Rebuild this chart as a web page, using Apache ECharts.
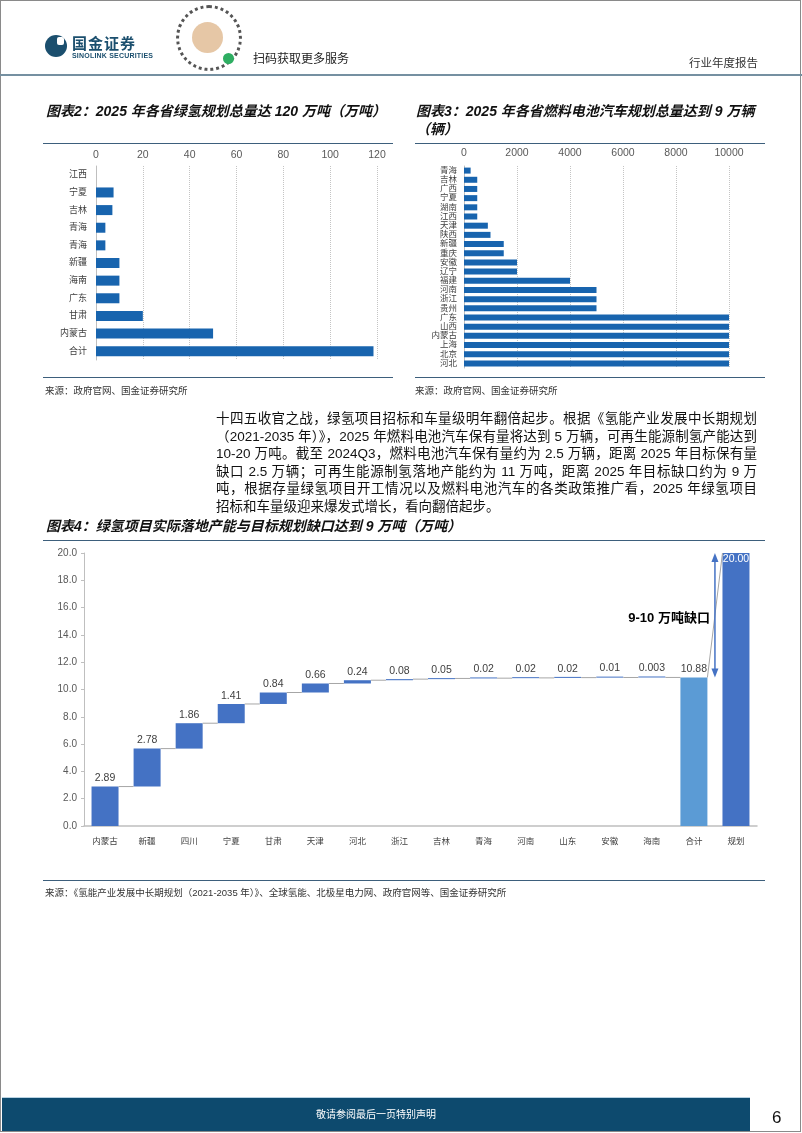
<!DOCTYPE html>
<html>
<head>
<meta charset="utf-8">
<script src="https://cdn.jsdelivr.net/npm/echarts@6/dist/echarts.min.js"></script>
<style>
html,body{margin:0;padding:0;background:#fff;}
body{width:802px;height:1133px;position:relative;overflow:hidden;font-family:"Liberation Sans","Noto Sans CJK SC",sans-serif;color:#111;}
.a{position:absolute;white-space:nowrap;line-height:1;}
.title{font-size:14px;font-weight:bold;font-style:italic;color:#111;}
.src{font-size:9.5px;color:#333;}
.rule{position:absolute;height:1.5px;background:#3d5f7c;}
.para{position:absolute;left:216px;width:541px;font-size:13.5px;color:#111;}
.para div{height:17.5px;line-height:17.5px;text-align:justify;text-align-last:justify;white-space:nowrap;}
.para div.last{text-align-last:left;}
</style>
</head>
<body>
<div id="chart" style="position:absolute;left:0;top:0;width:802px;height:1133px;"></div>

<!-- page frame -->
<div style="position:absolute;left:0;top:0;width:799px;height:1130px;border:1.5px solid #8a8a8a;pointer-events:none;"></div>

<!-- header -->
<div style="position:absolute;left:45px;top:35px;width:22px;height:22px;border-radius:50%;background:#1b4f6e;"></div>
<div style="position:absolute;left:57px;top:37px;width:7px;height:8px;border-radius:2px;background:#fff;"></div>
<div class="a" style="left:72px;top:36px;font-size:15px;font-weight:bold;color:#1b4f6e;letter-spacing:1px;">国金证券</div>
<div class="a" style="left:72px;top:52px;font-size:7px;font-weight:bold;color:#1b4f6e;letter-spacing:0.2px;">SINOLINK SECURITIES</div>
<div style="position:absolute;left:176px;top:5px;width:60px;height:60px;border-radius:50%;border:3px dotted #555;"></div>
<div style="position:absolute;left:192px;top:22px;width:31px;height:31px;border-radius:50%;background:#e6c7a6;"></div>
<div style="position:absolute;left:223px;top:53px;width:11px;height:11px;border-radius:50%;background:#2eae62;"></div>
<div class="a" style="left:253px;top:53px;font-size:12px;color:#222;">扫码获取更多服务</div>
<div class="a" style="left:689px;top:58px;font-size:11.5px;color:#333;">行业年度报告</div>
<div style="position:absolute;left:0;top:74px;width:802px;height:2px;background:#7590a1;"></div>

<!-- chart 2 / 3 titles -->
<div class="a title" style="left:46px;top:104px;">图表2：2025 年各省绿氢规划总量达 120 万吨（万吨）</div>
<div class="a title" style="left:416px;top:104px;">图表3：2025 年各省燃料电池汽车规划总量达到 9 万辆</div>
<div class="a title" style="left:416px;top:122px;">（辆）</div>
<div class="rule" style="left:43px;top:142.5px;width:350px;"></div>
<div class="rule" style="left:415px;top:142.5px;width:350px;"></div>
<div class="rule" style="left:43px;top:376.5px;width:350px;"></div>
<div class="rule" style="left:415px;top:376.5px;width:350px;"></div>
<div class="a src" style="left:45px;top:386px;">来源：政府官网、国金证券研究所</div>
<div class="a src" style="left:415px;top:386px;">来源：政府官网、国金证券研究所</div>

<!-- paragraph -->
<div class="para" style="top:410px;">
<div>十四五收官之战，绿氢项目招标和车量级明年翻倍起步。根据《氢能产业发展中长期规划</div>
<div>（2021-2035 年）》，2025 年燃料电池汽车保有量将达到 5 万辆，可再生能源制氢产能达到</div>
<div>10-20 万吨。截至 2024Q3，燃料电池汽车保有量约为 2.5 万辆，距离 2025 年目标保有量</div>
<div>缺口 2.5 万辆；可再生能源制氢落地产能约为 11 万吨，距离 2025 年目标缺口约为 9 万</div>
<div>吨，根据存量绿氢项目开工情况以及燃料电池汽车的各类政策推广看，2025 年绿氢项目</div>
<div class="last">招标和车量级迎来爆发式增长，看向翻倍起步。</div>
</div>

<!-- chart 4 -->
<div class="a title" style="left:46px;top:519px;">图表4：绿氢项目实际落地产能与目标规划缺口达到 9 万吨（万吨）</div>
<div class="rule" style="left:43px;top:539.5px;width:722px;"></div>
<div class="rule" style="left:43px;top:879.5px;width:722px;"></div>
<div class="a src" style="left:45px;top:888px;">来源：《氢能产业发展中长期规划（2021-2035 年）》、全球氢能、北极星电力网、政府官网等、国金证券研究所</div>

<!-- footer -->
<div style="position:absolute;left:2px;top:1097px;width:748px;height:33px;background:#0d4a6e;border-top:1px solid #b9d3e3;"></div>
<div class="a" style="left:2px;width:748px;top:1110px;font-size:10px;color:#fff;text-align:center;">敬请参阅最后一页特别声明</div>
<div class="a" style="left:772px;top:1109px;font-size:17px;color:#111;">6</div>

<script>
// ---- Chart 2: green hydrogen plans by province (万吨) ----
const cats2 = ['江西','宁夏','吉林','青海','青海','新疆','海南','广东','甘肃','内蒙古','合计'];
const vals2 = [0, 7.5, 7, 4, 4, 10, 10, 10, 20, 50, 118.5];

// ---- Chart 3: fuel-cell vehicle plans by province (辆) ----
const cats3 = ['青海','吉林','广西','宁夏','湖南','江西','天津','陕西','新疆','重庆','安徽','辽宁','福建','河南','浙江','贵州','广东','山西','内蒙古','上海','北京','河北'];
const vals3 = [250, 500, 500, 500, 500, 500, 900, 1000, 1500, 1500, 2000, 2000, 4000, 5000, 5000, 5000, 10000, 10000, 10000, 10000, 10000, 10000];

// ---- Chart 4: waterfall of landed capacity vs plan (万吨) ----
const cats4 = ['内蒙古','新疆','四川','宁夏','甘肃','天津','河北','浙江','吉林','青海','河南','山东','安徽','海南','合计','规划'];
const vals4 = [2.89, 2.78, 1.86, 1.41, 0.84, 0.66, 0.24, 0.08, 0.05, 0.02, 0.02, 0.02, 0.01, 0.003, 10.88, 20.00];
const totalIdx = [14, 15];          // bars drawn from zero
const gapNote = '9-10 万吨缺口';

// derive waterfall bases from the values
const base4 = [];
let run = 0;
vals4.forEach((v, i) => {
  if (totalIdx.includes(i)) { base4.push(0); }
  else { base4.push(+run.toFixed(4)); run += v; }
});
const tops4 = vals4.map((v, i) => base4[i] + v);
const conn4 = [];
for (let i = 0; i < vals4.length - 1; i++) {
  const next = i + 1 === vals4.length - 1 ? tops4[i + 1] : tops4[i];
  conn4.push([i, tops4[i], next]);
}

const BW4 = 27;
const FONT = '"Liberation Sans","Noto Sans CJK SC",sans-serif';

const chart = echarts.init(document.getElementById('chart'), null, {renderer: 'canvas'});
chart.setOption({
  animation: false,
  backgroundColor: 'transparent',
  textStyle: {fontFamily: FONT},
  grid: [
    {left: 96, top: 166, width: 281, height: 194, containLabel: false, outerBoundsMode: 'none'},
    {left: 464, top: 166, width: 265, height: 202, containLabel: false, outerBoundsMode: 'none'},
    {left: 84, top: 553, width: 673, height: 273, containLabel: false, outerBoundsMode: 'none'}
  ],
  xAxis: [
    {type: 'value', gridIndex: 0, position: 'top', min: 0, max: 120, interval: 20,
     axisLine: {show: false}, axisTick: {show: false},
     axisLabel: {fontSize: 10.5, color: '#595959', margin: 6, formatter: v => String(v)},
     splitLine: {lineStyle: {type: 'dotted', color: '#c4c4c4', width: 1}}},
    {type: 'value', gridIndex: 1, position: 'top', min: 0, max: 10000, interval: 2000,
     axisLine: {show: false}, axisTick: {show: false},
     axisLabel: {fontSize: 10.5, color: '#595959', margin: 8, formatter: v => String(v)},
     splitLine: {lineStyle: {type: 'dotted', color: '#c4c4c4', width: 1}}},
    {type: 'category', gridIndex: 2, data: cats4,
     axisLine: {lineStyle: {color: '#bfbfbf', width: 1.5}}, axisTick: {show: false},
     axisLabel: {fontSize: 8.5, color: '#404040', margin: 11, interval: 0}}
  ],
  yAxis: [
    {type: 'category', gridIndex: 0, data: cats2, inverse: true,
     axisLine: {lineStyle: {color: '#bfbfbf'}}, axisTick: {show: false},
     axisLabel: {fontSize: 9, color: '#404040', margin: 9, interval: 0}},
    {type: 'category', gridIndex: 1, data: cats3, inverse: true,
     axisLine: {lineStyle: {color: '#bfbfbf'}}, axisTick: {show: false},
     axisLabel: {fontSize: 8.5, color: '#404040', margin: 7, interval: 0}},
    {type: 'value', gridIndex: 2, min: 0, max: 20, interval: 2,
     axisLine: {show: true, lineStyle: {color: '#bfbfbf'}},
     axisTick: {show: true, length: 3, lineStyle: {color: '#bfbfbf'}},
     axisLabel: {fontSize: 10, color: '#595959', margin: 7, formatter: v => v.toFixed(1)},
     splitLine: {show: false}}
  ],
  series: [
    {type: 'bar', xAxisIndex: 0, yAxisIndex: 0, data: vals2, barWidth: 10,
     itemStyle: {color: '#1864ae'}},
    {type: 'bar', xAxisIndex: 1, yAxisIndex: 1, data: vals3, barWidth: 6,
     itemStyle: {color: '#1864ae'}},
    {type: 'bar', xAxisIndex: 2, yAxisIndex: 2, stack: 'wf', data: base4, barWidth: BW4,
     itemStyle: {color: 'rgba(0,0,0,0)'}, silent: true},
    {type: 'bar', xAxisIndex: 2, yAxisIndex: 2, stack: 'wf', barWidth: BW4, barMinHeight: 1,
     data: vals4.map((v, i) => {
       const item = {value: v};
       if (i === 14) item.itemStyle = {color: '#5b9bd5'};
       if (i === 15) item.label = {position: 'insideTop', color: '#fff', distance: 1};
       return item;
     }),
     itemStyle: {color: '#4472c4'},
     label: {show: true, position: 'top', distance: 3, fontSize: 10.5, color: '#404040',
             formatter: p => Number.isInteger(p.value) ? p.value.toFixed(2) : String(p.value)}},
    {type: 'custom', xAxisIndex: 2, yAxisIndex: 2, data: conn4, z: 3, silent: true,
     renderItem: (params, api) => {
       const i = api.value(0);
       const p1 = api.coord([i, api.value(1)]);
       const p2 = api.coord([i + 1, api.value(2)]);
       return {type: 'line',
               shape: {x1: p1[0] + BW4 / 2, y1: p1[1], x2: p2[0] - BW4 / 2, y2: p2[1]},
               style: {stroke: '#a6a6a6', lineWidth: 1}};
     }},
    {type: 'custom', xAxisIndex: 2, yAxisIndex: 2, z: 4, silent: true,
     data: [[14, vals4[14], vals4[15]]],
     renderItem: (params, api) => {
       const i = api.value(0);
       const lo = api.coord([i, api.value(1)]);
       const hi = api.coord([i + 1, api.value(2)]);
       const x = (lo[0] + hi[0]) / 2;
       const yT = hi[1], yB = lo[1];
       const c = '#4472c4';
       const ty = api.coord([i, 15.2])[1];
       return {type: 'group', children: [
         {type: 'line', shape: {x1: x, y1: yT + 7, x2: x, y2: yB - 7}, style: {stroke: c, lineWidth: 1.5}},
         {type: 'polygon', shape: {points: [[x, yT], [x - 3.5, yT + 9], [x + 3.5, yT + 9]]}, style: {fill: c}},
         {type: 'polygon', shape: {points: [[x, yB], [x - 3.5, yB - 9], [x + 3.5, yB - 9]]}, style: {fill: c}},
         {type: 'text', x: x - 5, y: ty,
          style: {text: gapNote, fill: '#000', font: 'bold 13px ' + FONT, align: 'right', verticalAlign: 'middle'}}
       ]};
     }}
  ]
});
</script>
</body>
</html>
